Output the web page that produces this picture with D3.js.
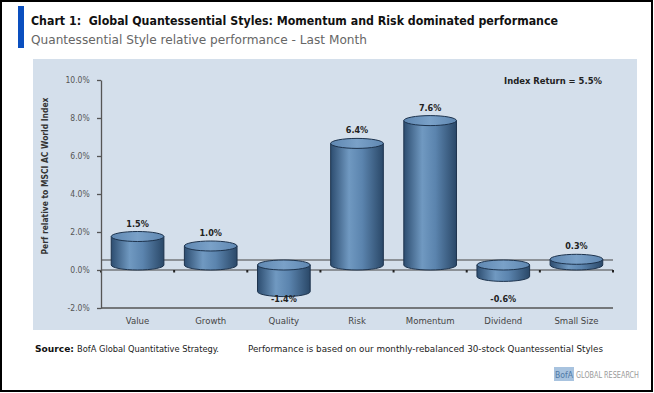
<!DOCTYPE html>
<html>
<head>
<meta charset="utf-8">
<title>Chart 1</title>
<script src="https://cdn.jsdelivr.net/npm/d3@7"></script>
<style>
  body { margin: 0; background: #fff; }
  svg text { font-family: "Liberation Sans Narrow", "DejaVu Sans Condensed", "Liberation Sans", sans-serif; }
  .axis text { font-size: 8.5px; fill: #555; }
  .axis path, .axis line { stroke: #555; stroke-width: 1.3; }
</style>
</head>
<body>
<script>
// data
var categories = ["Value", "Growth", "Quality", "Risk", "Momentum", "Dividend", "Small Size"];
var values = [1.5, 1.0, -1.4, 6.4, 7.6, -0.6, 0.3];
var valueLabels = ["1.5%", "1.0%", "-1.4%", "6.4%", "7.6%", "-0.6%", "0.3%"];
var yTicks = [-2, 0, 2, 4, 6, 8, 10];

var width = 654, height = 393;
var svg = d3.select("body").append("svg")
  .attr("width", width)
  .attr("height", height);

// frame + heading
svg.append("rect").attr("x", 1).attr("y", 1).attr("width", 651).attr("height", 390)
  .attr("fill", "#fff").attr("stroke", "#000").attr("stroke-width", 2);
svg.append("rect").attr("x", 18).attr("y", 6).attr("width", 6).attr("height", 42).attr("fill", "#0a4fbf");

svg.append("text").attr("x", 31).attr("y", 25)
  .style("white-space", "pre")
  .attr("font-size", "13px").attr("font-weight", "bold").attr("fill", "#111")
  .attr("textLength", 527).attr("lengthAdjust", "spacingAndGlyphs")
  .text("Chart 1:  Global Quantessential Styles: Momentum and Risk dominated performance");
svg.append("text").attr("x", 31).attr("y", 44)
  .attr("font-size", "13px").attr("fill", "#666")
  .attr("textLength", 336).attr("lengthAdjust", "spacingAndGlyphs")
  .text("Quantessential Style relative performance - Last Month");

// plot panel
svg.append("rect").attr("x", 33).attr("y", 59).attr("width", 604).attr("height", 271).attr("fill", "#d4dfeb");

var x = d3.scaleBand().domain(categories).range([101, 613]);
var y = d3.scaleLinear().domain([-2, 10]).range([308, 80]);

var depth = 5, ry = 5;
var cw = x.bandwidth() * 0.72;

// floor back line and front zero line
svg.append("line").attr("x1", 101).attr("x2", 613)
  .attr("y1", y(0) - 2 * depth).attr("y2", y(0) - 2 * depth)
  .attr("stroke", "#444").attr("stroke-width", 1.2);
svg.append("line").attr("x1", 101).attr("x2", 613)
  .attr("y1", y(0)).attr("y2", y(0))
  .attr("stroke", "#444").attr("stroke-width", 1.2);
svg.append("line").attr("x1", 101).attr("x2", 613)
  .attr("y1", y(-2)).attr("y2", y(-2))
  .attr("stroke", "#555").attr("stroke-width", 1.3);

// small tick marks on zero line at band edges
svg.selectAll(".zt")
  .data(categories.concat(["end"]))
  .enter().append("rect")
  .attr("class", "zt")
  .attr("x", function (d, i) { return (i < categories.length ? x(d) : x.range()[1]) - 1; })
  .attr("y", y(0))
  .attr("width", 2).attr("height", 2.5)
  .attr("fill", "#222");

// y axis
var yAxis = d3.axisLeft(y).tickValues(yTicks).tickSize(4).tickSizeOuter(0)
  .tickFormat(function (d) { return d.toFixed(1) + "%"; });
var gy = svg.append("g").attr("class", "axis")
  .attr("transform", "translate(101,0)")
  .call(yAxis);
gy.selectAll("text").attr("dx", "-0.5em");

svg.append("text")
  .attr("transform", "translate(48," + 176 + ") rotate(-90)")
  .attr("text-anchor", "middle")
  .attr("font-size", "8.5px").attr("font-weight", "bold").attr("fill", "#333")
  .attr("textLength", 157).attr("lengthAdjust", "spacingAndGlyphs")
  .text("Perf relative to MSCI AC World Index");

// cylinders
var defs = svg.append("defs");
var grad = defs.append("linearGradient").attr("id", "body").attr("x1", "0").attr("x2", "1").attr("y1", "0").attr("y2", "0");
grad.append("stop").attr("offset", "0%").attr("stop-color", "#2d4d70");
grad.append("stop").attr("offset", "35%").attr("stop-color", "#7099c1");
grad.append("stop").attr("offset", "60%").attr("stop-color", "#5b84ae");
grad.append("stop").attr("offset", "100%").attr("stop-color", "#2a4868");
var topGrad = defs.append("linearGradient").attr("id", "top").attr("x1", "0").attr("x2", "1").attr("y1", "0").attr("y2", "0");
topGrad.append("stop").attr("offset", "0%").attr("stop-color", "#5f87b1");
topGrad.append("stop").attr("offset", "50%").attr("stop-color", "#7aa1c8");
topGrad.append("stop").attr("offset", "100%").attr("stop-color", "#5f87b1");

var bars = svg.selectAll(".cyl")
  .data(values)
  .enter().append("g")
  .attr("class", "cyl");

bars.append("path")
  .attr("d", function (d, i) {
    var cx = x(categories[i]) + x.bandwidth() / 2;
    var yt = y(Math.max(d, 0)) - depth;
    var yb = y(Math.min(d, 0)) - depth;
    var l = cx - cw / 2, r = cx + cw / 2;
    return "M" + l + "," + yt + "L" + l + "," + yb +
      "A" + (cw / 2) + "," + ry + " 0 0 0 " + r + "," + yb +
      "L" + r + "," + yt + "Z";
  })
  .attr("fill", "url(#body)")
  .attr("stroke", "#1d334d").attr("stroke-width", 1);

bars.append("ellipse")
  .attr("cx", function (d, i) { return x(categories[i]) + x.bandwidth() / 2; })
  .attr("cy", function (d) { return y(Math.max(d, 0)) - depth; })
  .attr("rx", cw / 2).attr("ry", ry)
  .attr("fill", "url(#top)")
  .attr("stroke", "#1d334d").attr("stroke-width", 1);

// value labels
bars.append("text")
  .attr("x", function (d, i) { return x(categories[i]) + x.bandwidth() / 2; })
  .attr("y", function (d) {
    return d >= 0 ? y(d) - depth - ry - 5 : y(-1.55) + 3;
  })
  .attr("text-anchor", "middle")
  .attr("font-size", "9px").attr("font-weight", "bold").attr("fill", "#222")
  .text(function (d, i) { return valueLabels[i]; });

// category labels
svg.selectAll(".cat")
  .data(categories)
  .enter().append("text")
  .attr("class", "cat")
  .attr("x", function (d) { return x(d) + x.bandwidth() / 2; })
  .attr("y", 324)
  .attr("text-anchor", "middle")
  .attr("font-size", "9.5px").attr("fill", "#444")
  .text(function (d) { return d; });

svg.append("text").attr("x", 602).attr("y", 84)
  .attr("text-anchor", "end")
  .attr("font-size", "9px").attr("font-weight", "bold").attr("fill", "#222")
  .attr("textLength", 98).attr("lengthAdjust", "spacingAndGlyphs")
  .text("Index Return = 5.5%");

// footer
svg.append("text").attr("x", 35).attr("y", 352)
  .attr("font-size", "9.5px").attr("font-weight", "bold").attr("fill", "#111")
  .attr("textLength", 39).attr("lengthAdjust", "spacingAndGlyphs")
  .text("Source:");
svg.append("text").attr("x", 77).attr("y", 352)
  .attr("font-size", "9.5px").attr("fill", "#222")
  .attr("textLength", 142).attr("lengthAdjust", "spacingAndGlyphs")
  .text("BofA Global Quantitative Strategy.");
svg.append("text").attr("x", 248).attr("y", 352)
  .attr("font-size", "9.5px").attr("fill", "#222")
  .attr("textLength", 355).attr("lengthAdjust", "spacingAndGlyphs")
  .text("Performance is based on our monthly-rebalanced 30-stock Quantessential Styles");

svg.append("rect").attr("x", 554).attr("y", 367).attr("width", 20).attr("height", 14).attr("fill", "#a8c3df");
svg.append("text").attr("x", 555).attr("y", 378)
  .attr("font-size", "9.5px").attr("fill", "#4f79a6")
  .attr("textLength", 18).attr("lengthAdjust", "spacingAndGlyphs")
  .text("BofA");
svg.append("text").attr("x", 639).attr("y", 378)
  .attr("text-anchor", "end")
  .attr("font-size", "8px").attr("fill", "#9a9a9a")
  .attr("textLength", 63).attr("lengthAdjust", "spacingAndGlyphs")
  .text("GLOBAL RESEARCH");
</script>
</body>
</html>
